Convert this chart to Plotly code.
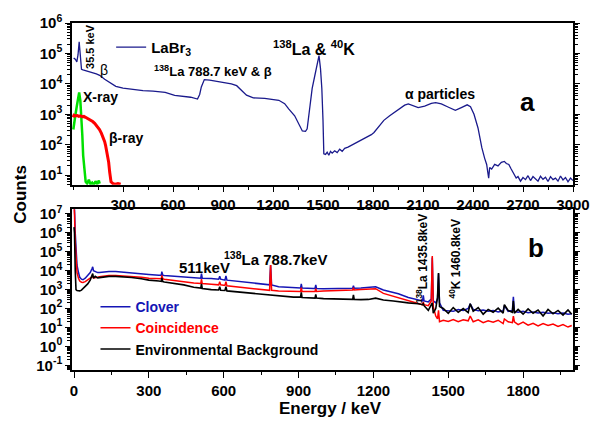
import numpy as np
import plotly.graph_objects as go

# ---------------- Panel a : LaBr3 spectrum (energy keV, log10 counts) -------------
labr3_energy = [4, 15, 23, 30, 37, 44, 51, 60, 80, 110,
                140, 160, 190, 218, 257, 300, 353, 420, 480, 553,
                610, 660, 706, 747, 760, 770, 788, 820, 860, 905,
                950, 982, 1010, 1041, 1082, 1150, 1235, 1270, 1294, 1330,
                1376, 1395, 1405, 1420, 1435, 1452, 1465, 1476, 1485, 1493,
                1500, 1505, 1515, 1525, 1535, 1545, 1555, 1570, 1585, 1600,
                1615, 1630, 1650, 1670, 1690, 1710, 1730, 1750, 1770, 1790,
                1806, 1830, 1865, 1900, 1924, 1960, 1990, 2012, 2040, 2071,
                2110, 2150, 2176, 2210, 2250, 2294, 2330, 2365, 2385, 2406,
                2430, 2453, 2470, 2482, 2490, 2494, 2500, 2512, 2530, 2550,
                2570, 2588, 2600, 2615, 2629, 2645, 2659, 2670, 2685, 2700,
                2715, 2730, 2745, 2760, 2775, 2790, 2805, 2820, 2835, 2850,
                2865, 2880, 2895, 2910, 2925, 2940, 2955, 2970, 2985, 3000]
labr3_log_counts = [4.85, 4.80, 4.72, 4.95, 5.38, 5.0, 4.48, 4.46, 4.42, 4.38,
                    4.33, 4.28, 4.15, 4.05, 3.92, 3.86, 3.82, 3.78, 3.76, 3.72,
                    3.62, 3.58, 3.56, 3.50, 3.65, 3.90, 4.14, 4.12, 4.08, 4.04,
                    4.00, 3.94, 3.80, 3.63, 3.54, 3.52, 3.46, 3.35, 3.18, 2.95,
                    2.45, 2.44, 2.52, 3.1, 3.85, 4.3, 4.6, 4.93, 4.5, 3.85,
                    2.8, 1.70, 1.68, 1.75, 1.65, 1.78, 1.72, 1.80, 1.74, 1.85,
                    1.78, 1.88, 1.92, 1.98, 2.02, 2.10, 2.15, 2.22, 2.28, 2.33,
                    2.40, 2.55, 2.80, 2.95, 3.05, 3.20, 3.30, 3.34, 3.28, 3.22,
                    3.27, 3.36, 3.38, 3.34, 3.24, 3.13, 3.22, 3.31, 3.25, 3.00,
                    2.55, 1.90, 1.55, 1.35, 1.05, 0.90, 1.25, 1.20, 1.35, 1.30,
                    1.42, 1.45, 1.38, 1.35, 1.20, 1.05, 0.90, 0.95, 0.80, 0.92,
                    0.85, 0.98, 0.82, 0.95, 0.88, 0.80, 0.96, 0.86, 0.93, 0.79,
                    0.95, 0.85, 0.90, 0.80, 0.97, 0.84, 0.92, 0.78, 0.90, 0.82]

xray_energy = [2, 6, 15, 22, 30, 37, 44, 51, 56, 61, 68, 76, 85, 95, 105, 115, 125, 135, 145, 155, 160]
xray_log_counts = [2.5, 2.70, 3.0, 3.24, 3.55, 3.72, 3.45, 2.92, 2.3, 1.64, 1.1, 0.78, 0.72, 0.85,
                   0.70, 0.75, 0.68, 0.80, 0.70, 0.82, 0.72]

beta_energy = [0, 6, 15, 25, 35, 45, 55, 65, 75, 82, 95, 105, 118, 130, 140, 150, 159, 170, 180,
               190, 196, 205, 214, 220, 228, 240, 255, 270, 286]
beta_log_counts = [2.9, 2.97, 2.95, 2.96, 2.93, 2.95, 2.92, 2.93, 2.9, 2.88, 2.84, 2.80, 2.76, 2.70,
                   2.64, 2.57, 2.50, 2.38, 2.25, 2.10, 1.96, 1.70, 1.42, 1.10, 0.78, 0.72, 0.70, 0.72, 0.70]

# ---------------- Panel b : Clover spectra ----------------
b_energy = [0, 2, 5, 8, 12, 18, 23, 30, 36, 45,
            55, 65, 72, 75, 78, 85, 95, 102, 120, 140,
            167, 200, 231, 270, 300, 340, 350, 352, 356, 362,
            400, 440, 480, 508, 511, 514, 550, 580, 584, 588,
            605, 609, 613, 650, 688, 740, 784, 788, 792, 820,
            880, 908, 911, 914, 960, 966, 969, 972, 1000, 1080,
            1117, 1120, 1123, 1150, 1180, 1209, 1240, 1280, 1300, 1340,
            1380, 1397, 1400, 1403, 1420, 1432, 1436, 1440, 1450, 1457,
            1461, 1465, 1480, 1500, 1520, 1540, 1560, 1580, 1588, 1600,
            1620, 1640, 1660, 1680, 1700, 1720, 1725, 1740, 1757, 1761,
            1765, 1780, 1800, 1820, 1840, 1860, 1880, 1900, 1920, 1940,
            1960, 1980, 1995]
clover_log_counts = [7.5, 7.3, 6.0, 4.9, 4.3, 3.9, 3.65, 3.55, 3.52, 3.6,
                     3.75, 3.9, 4.1, 4.2, 4.0, 3.95, 3.9, 3.9, 3.93, 3.96,
                     3.96, 3.93, 3.9, 3.84, 3.8, 3.76, 3.76, 3.95, 3.76, 3.75,
                     3.72, 3.67, 3.62, 3.6, 3.85, 3.6, 3.58, 3.55, 3.7, 3.55,
                     3.5, 3.72, 3.5, 3.45, 3.4, 3.32, 3.25, 4.3, 3.25, 3.15,
                     3.1, 3.08, 3.3, 3.08, 3.06, 3.06, 3.25, 3.06, 3.05, 3.05,
                     3.07, 3.2, 3.07, 3.08, 3.12, 3.15, 2.98, 2.85, 2.78, 2.58,
                     2.45, 2.4, 2.7, 2.4, 2.35, 2.5, 4.7, 2.4, 2.3, 2.5,
                     3.85, 2.3, 1.9, 1.88, 1.85, 1.95, 1.9, 2.0, 2.25, 1.95,
                     1.88, 1.92, 1.85, 1.9, 1.82, 1.88, 2.15, 1.85, 1.9, 2.62,
                     1.85, 1.8, 1.85, 1.78, 1.82, 1.76, 1.8, 1.75, 1.78, 1.72,
                     1.76, 1.7, 1.72]
coinc_log_counts = [7.5, 7.0, 5.5, 4.3, 3.9, 3.6, 3.45, 3.39, 3.38, 3.42,
                    3.5, 3.58, 3.65, 3.7, 3.62, 3.62, 3.65, 3.68, 3.72, 3.75,
                    3.75, 3.73, 3.7, 3.65, 3.6, 3.57, 3.57, 3.75, 3.57, 3.55,
                    3.5, 3.42, 3.35, 3.32, 3.55, 3.32, 3.28, 3.25, 3.42, 3.25,
                    3.22, 3.42, 3.2, 3.15, 3.1, 3.02, 2.96, 4.3, 2.96, 2.93,
                    2.9, 2.9, 3.1, 2.9, 2.9, 2.9, 3.05, 2.9, 2.92, 2.95,
                    2.98, 3.1, 2.98, 3.0, 3.02, 3.05, 2.8, 2.65, 2.58, 2.4,
                    2.25, 2.2, 2.35, 2.2, 2.15, 2.4, 4.78, 2.1, 1.6, 1.45,
                    1.9, 1.3, 1.38, 1.32, 1.42, 1.3, 1.4, 1.35, 1.6, 1.3,
                    1.4, 1.25, 1.35, 1.28, 1.38, 1.2, 1.45, 1.3, 1.25, 1.6,
                    1.3, 1.15, 1.28, 1.12, 1.22, 1.08, 1.2, 1.1, 1.18, 1.05,
                    1.15, 1.02, 1.1]
env_log_counts = [6.3, 6.0, 4.0, 3.0, 2.95, 2.93, 2.93, 2.97, 3.05, 3.15,
                  3.3, 3.5, 3.7, 3.85, 3.6, 3.7, 3.62, 3.63, 3.68, 3.7,
                  3.7, 3.68, 3.64, 3.57, 3.5, 3.45, 3.43, 3.62, 3.42, 3.4,
                  3.33, 3.25, 3.12, 3.08, 3.3, 3.06, 3.0, 2.98, 3.15, 2.96,
                  2.95, 3.15, 2.93, 2.88, 2.82, 2.75, 2.7, 2.72, 2.68, 2.65,
                  2.6, 2.6, 2.85, 2.58, 2.57, 2.55, 2.75, 2.55, 2.52, 2.5,
                  2.48, 2.72, 2.48, 2.47, 2.48, 2.55, 2.45, 2.4, 2.38, 2.3,
                  2.25, 2.2, 2.25, 2.15, 1.9, 2.2, 2.3, 1.75, 2.0, 2.6,
                  3.88, 2.1, 2.0, 1.75, 2.05, 1.8, 2.0, 1.78, 2.25, 1.85,
                  2.05, 1.7, 1.95, 1.8, 2.02, 1.75, 2.2, 1.9, 1.8, 2.4,
                  1.75, 1.95, 1.7, 1.98, 1.75, 1.92, 1.6, 1.95, 1.72, 1.9,
                  1.65, 1.92, 1.7]

# ---------------- Tick labels ----------------
a_xtick_vals = [300, 600, 900, 1200, 1500, 1800, 2100, 2400, 2700, 3000]
b_xtick_vals = [0, 300, 600, 900, 1200, 1500, 1800]
a_ytick_vals = [1e1, 1e2, 1e3, 1e4, 1e5, 1e6]
a_ytick_text = ["10<sup>1</sup>", "10<sup>2</sup>", "10<sup>3</sup>", "10<sup>4</sup>",
                "10<sup>5</sup>", "10<sup>6</sup>"]
b_ytick_vals = [1e-1, 1e0, 1e1, 1e2, 1e3, 1e4, 1e5, 1e6, 1e7]
b_ytick_text = ["10<sup>-1</sup>", "10<sup>0</sup>", "10<sup>1</sup>", "10<sup>2</sup>",
                "10<sup>3</sup>", "10<sup>4</sup>", "10<sup>5</sup>", "10<sup>6</sup>", "10<sup>7</sup>"]


def counts(logs):
    return np.power(10.0, np.array(logs))


def minor_log(lo, hi):
    return [m * 10.0 ** d for d in range(lo, hi) for m in range(2, 10)]


FONT = "Arial, Liberation Sans, sans-serif"
W, H = 602, 425
ML, MR, MT, MB = 72, 18, 14, 55
PW, PH = W - ML - MR, H - MT - MB


def px(xp):
    return (xp - ML) / PW


def py(yp):
    return (H - MB - yp) / PH


fig = go.Figure()
fig.add_trace(go.Scatter(x=labr3_energy, y=counts(labr3_log_counts), mode="lines",
                         line=dict(color="#1a1a8c", width=1.3), name="LaBr<sub>3</sub>",
                         legend="legend", xaxis="x", yaxis="y"))
fig.add_trace(go.Scatter(x=xray_energy, y=counts(xray_log_counts), mode="lines",
                         line=dict(color="#00e000", width=2.5), showlegend=False,
                         xaxis="x", yaxis="y"))
fig.add_trace(go.Scatter(x=beta_energy, y=counts(beta_log_counts), mode="lines",
                         line=dict(color="#ff0000", width=3), showlegend=False,
                         xaxis="x", yaxis="y"))

fig.add_trace(go.Scatter(x=b_energy, y=counts(clover_log_counts), mode="lines",
                         line=dict(color="#1515b5", width=1.5),
                         name='<span style="color:#1515b5">Clover</span>',
                         legend="legend2", xaxis="x2", yaxis="y2"))
fig.add_trace(go.Scatter(x=b_energy, y=counts(coinc_log_counts), mode="lines",
                         line=dict(color="#ff0000", width=1.5),
                         name='<span style="color:#ff0000">Coincidence</span>',
                         legend="legend2", xaxis="x2", yaxis="y2"))
fig.add_trace(go.Scatter(x=b_energy, y=counts(env_log_counts), mode="lines",
                         line=dict(color="#000000", width=1.6),
                         name="Environmental Background",
                         legend="legend2", xaxis="x2", yaxis="y2"))

axis_common = dict(showline=True, linecolor="black", linewidth=1.5,
                   showgrid=False, zeroline=False, ticks="outside", tickcolor="black",
                   tickwidth=1.2, tickfont=dict(family=FONT, size=15, color="black", weight="bold"))

fig.update_layout(
    width=W, height=H,
    margin=dict(l=ML, r=MR, t=MT, b=MB),
    paper_bgcolor="white", plot_bgcolor="white",
    font=dict(family=FONT, color="black"),
    xaxis=dict(domain=[0, 1], anchor="y", range=[-6, 3000], tickmode="array",
               tickvals=a_xtick_vals, ticklen=5, mirror=True,
               minor=dict(dtick=150, tick0=0, ticks="outside", ticklen=3, tickcolor="black"),
               **axis_common),
    yaxis=dict(domain=[py(180), 1], anchor="x", type="log", range=[0.68, 6.002],
               tickmode="array", tickvals=a_ytick_vals, ticktext=a_ytick_text, ticklen=5,
               mirror="ticks",
               minor=dict(tickmode="array", tickvals=minor_log(0, 6), ticks="outside",
                          ticklen=3, tickcolor="black"),
               **axis_common),
    xaxis2=dict(domain=[0, 1], anchor="y2", range=[-8, 2000], tickmode="array",
                tickvals=b_xtick_vals, ticklen=6, mirror=True,
                minor=dict(dtick=150, tick0=0, ticks="outside", ticklen=3, tickcolor="black"),
                **axis_common),
    yaxis2=dict(domain=[0, py(205)], anchor="x2", type="log", range=[-1.25, 7.25],
                tickmode="array", tickvals=b_ytick_vals, ticktext=b_ytick_text, ticklen=5,
                mirror="ticks",
                minor=dict(tickmode="array", tickvals=minor_log(-2, 8), ticks="outside",
                           ticklen=3, tickcolor="black"),
                **axis_common),
    legend=dict(x=px(112), y=py(22), xanchor="left", yanchor="top", bgcolor="rgba(0,0,0,0)",
                font=dict(family=FONT, size=15, color="black", weight="bold")),
    legend2=dict(x=px(96), y=py(289), xanchor="left", yanchor="top", bgcolor="rgba(0,0,0,0)",
                 tracegroupgap=0,
                 font=dict(family=FONT, size=14, color="black", weight="bold")),
)

annots = [
    ("35.5 keV", 91, 38, -90, 11, True),
    ("β", 105, 62, 0, 14, False),
    ("<sup>138</sup>La 788.7 keV & β", 216, 63, 0, 13, True),
    ("<sup>138</sup>La & <sup>40</sup>K", 319, 40, 0, 16, True),
    ("α particles", 448, 87, 0, 14, True),
    ("a", 538, 95, 0, 26, True),
    ("X-ray", 101, 90, 0, 14, True),
    ("β-ray", 127, 132, 0, 14, True),
    ("511keV", 207, 265, 0, 15, True),
    ("<sup>138</sup>La 788.7keV", 280, 256, 0, 15, True),
    ("<sup>138</sup>La 1435.8keV", 430, 256, -90, 12, True),
    ("<sup>40</sup>K 1460.8keV", 463, 256, -90, 12, True),
    ("b", 546, 245, 0, 26, True),
    ("Counts", 19, 190, -90, 17, True),
    ("Energy / keV", 336, 410, 0, 17, True),
]
for text, x, y, ang, size, bold in annots:
    fig.add_annotation(text=text, x=px(x), y=py(y), xref="paper", yref="paper",
                       xanchor="center", yanchor="middle", showarrow=False, textangle=ang,
                       font=dict(family=FONT, size=size, color="black",
                                 weight="bold" if bold else "normal"))

fig.write_html("out.html")
